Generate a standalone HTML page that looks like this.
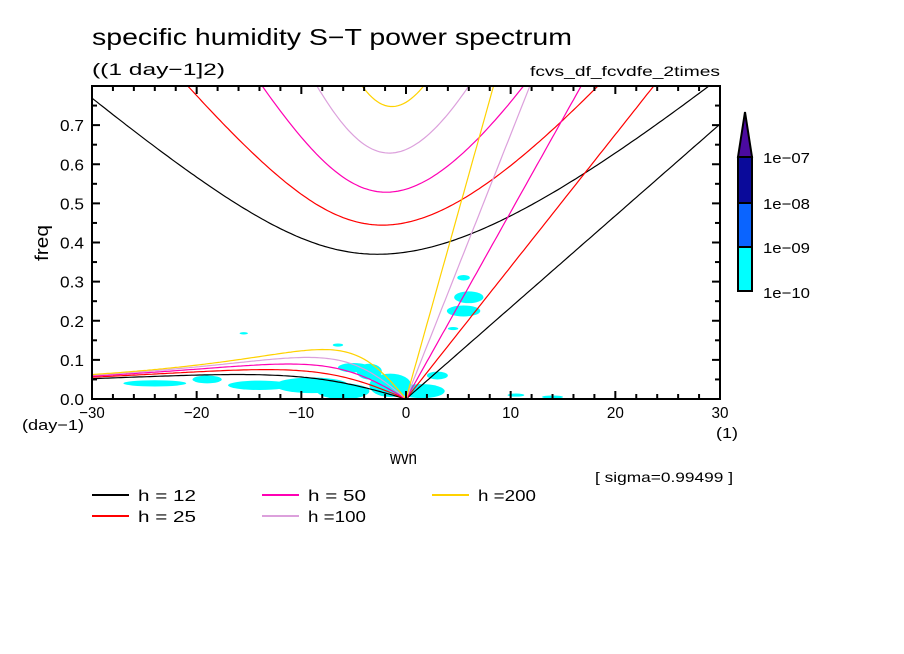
<!DOCTYPE html>
<html><head><meta charset="utf-8"><style>
body{margin:0;background:#fff;}
svg{display:block;font-family:"Liberation Sans",sans-serif;}
</style></head><body>
<svg id="chart" width="904" height="654" viewBox="0 0 904 654" xmlns="http://www.w3.org/2000/svg">
<rect width="904" height="654" fill="#fff"/>
<text x="92" y="45" font-size="23" textLength="480" lengthAdjust="spacingAndGlyphs" fill="#000">specific humidity S−T power spectrum</text>
<text x="92" y="75" font-size="17" textLength="133" lengthAdjust="spacingAndGlyphs">((1 day−1]2)</text>
<text x="530" y="76" font-size="14" textLength="190" lengthAdjust="spacingAndGlyphs">fcvs_df_fcvdfe_2times</text>
<g id="blobs" fill="#00ffff"></g>
<g id="curves" fill="none" stroke-width="1.2"></g>
<rect x="92" y="86" width="628" height="313" fill="none" stroke="#000" stroke-width="2"/>
<g id="ticks" stroke="#000" stroke-width="2"></g>
<g id="labels" font-size="16" fill="#000"></g>
<text x="48" y="243" font-size="18" textLength="36" lengthAdjust="spacingAndGlyphs" transform="rotate(-90 48 243)" text-anchor="middle">freq</text>
<text x="22" y="430" font-size="15" textLength="62" lengthAdjust="spacingAndGlyphs">(day−1)</text>
<text x="716" y="438" font-size="15" textLength="22" lengthAdjust="spacingAndGlyphs">(1)</text>
<text x="390" y="464" font-size="18" textLength="27" lengthAdjust="spacingAndGlyphs">wvn</text>
<text x="595" y="482" font-size="14" textLength="138" lengthAdjust="spacingAndGlyphs">[ sigma=0.99499 ]</text>
<g id="legend" font-size="16"></g>
<g stroke="#000" stroke-width="2">
<polygon points="738,157 752,157 745,112" fill="#4b0aa0"/>
<rect x="738" y="157" width="14" height="46" fill="#0a0a9a"/>
<rect x="738" y="203" width="14" height="44" fill="#0a64ff"/>
<rect x="738" y="247" width="14" height="44" fill="#00ffff"/>
</g>
<g font-size="15">
<text x="763" y="163" textLength="47" lengthAdjust="spacingAndGlyphs">1e−07</text><text x="763" y="209" textLength="47" lengthAdjust="spacingAndGlyphs">1e−08</text><text x="763" y="253" textLength="47" lengthAdjust="spacingAndGlyphs">1e−09</text><text x="763" y="298" textLength="47" lengthAdjust="spacingAndGlyphs">1e−10</text>
</g>
</svg>
<script>
const depths=[12,25,50,100,200];
const colors=["#000000","#ff0000","#ff00b4","#dca0dc","#ffd200"];
const xTicks=[-30,-20,-10,0,10,20,30];
const yTicks=[0.0,0.1,0.2,0.3,0.4,0.5,0.6,0.7];
// approximate shaded regions: [wvn center, freq center, wvn radius, freq radius]
const blobK=[-24,-19,-14,-9,-6,-5,-3.5,-1.5,1.5,3,5.5,6,5.5,4.5,10.5,14,-15.5,-6.5];
const blobF=[0.04,0.05,0.035,0.035,0.02,0.08,0.07,0.035,0.02,0.06,0.31,0.26,0.225,0.18,0.01,0.005,0.168,0.138];
const blobRK=[3,1.4,3,3.5,2.5,1.5,1.2,2,2.2,1,0.6,1.4,1.6,0.5,0.8,1,0.4,0.5];
const blobRF=[0.008,0.01,0.012,0.02,0.02,0.012,0.02,0.03,0.018,0.01,0.007,0.015,0.014,0.004,0.004,0.004,0.003,0.004];
const X0=92,X1=720,Y0=399,Y1=86,KMIN=-30,KMAX=30,FMAX=0.8;
const sx=k=>X0+(k-KMIN)/(KMAX-KMIN)*(X1-X0);
const sy=f=>Y0-f/FMAX*(Y0-Y1);
const NS="http://www.w3.org/2000/svg";
function mk(t,a,p){const e=document.createElementNS(NS,t);for(const k in a)e.setAttribute(k,a[k]);p.appendChild(e);return e;}
const bg=document.getElementById('blobs');
blobK.forEach((k,i)=>{const e=mk('ellipse',{cx:sx(k),cy:sy(blobF[i]),rx:blobRK[i]*(X1-X0)/60,ry:blobRF[i]*(Y0-Y1)/FMAX},bg);

});
const g=9.81,a=6.371e6,beta=2*7.292e-5/a,cpd=86400/(2*Math.PI);
const cg=document.getElementById('curves');
const clip=mk('clipPath',{id:'pc'},document.querySelector('svg'));mk('rect',{x:X0,y:Y1,width:X1-X0,height:Y0-Y1},clip);
cg.setAttribute('clip-path','url(#pc)');
depths.forEach((h,i)=>{
 const c=Math.sqrt(g*h);
 let d='';
 for(let w=0;w<=KMAX;w+=0.25){const k=w/a;d+=(w?'L':'M')+sx(w).toFixed(1)+','+sy(c*k*cpd).toFixed(1);}
 let e=mk('path',{d:d,stroke:colors[i]},cg);
 
 
 d='';
 for(let w=KMIN;w<=0;w+=0.25){const k=w/a;const om=-beta*k/(k*k+3*beta/c);d+=(w==KMIN?'M':'L')+sx(w).toFixed(1)+','+sy(om*cpd).toFixed(1);}
 e=mk('path',{d:d,stroke:colors[i]},cg);
 
 
 d='';
 for(let w=KMIN;w<=KMAX;w+=0.25){const k=w/a;let om=Math.sqrt(3*beta*c+k*k*c*c);for(let it=0;it<60;it++){om=Math.sqrt(Math.max(1e-20,k*k*c*c+3*beta*c+beta*c*c*k/om));}
  d+=(w==KMIN?'M':'L')+sx(w).toFixed(1)+','+Math.max(-50,sy(om*cpd)).toFixed(1);}
 e=mk('path',{d:d,stroke:colors[i]},cg);
 
 
});
const tg=document.getElementById('ticks'),lg=document.getElementById('labels');
for(let w=KMIN;w<=KMAX;w+=2){const L=(w%10==0)?8:5;mk('line',{x1:sx(w),x2:sx(w),y1:Y0,y2:Y0-L},tg);mk('line',{x1:sx(w),x2:sx(w),y1:Y1,y2:Y1+L},tg);}
for(let f=0;f<=0.8001;f+=0.05){const L=(Math.round(f*100)%10==0)?8:5;mk('line',{x1:X0,x2:X0+L,y1:sy(f),y2:sy(f)},tg);mk('line',{x1:X1,x2:X1-L,y1:sy(f),y2:sy(f)},tg);}
xTicks.forEach(v=>{const s=String(v).replace('-','−');const t=mk('text',{x:sx(v),y:418,'text-anchor':'middle',textLength:(s.length*8.5),lengthAdjust:'spacingAndGlyphs'},lg);t.textContent=s;

});
yTicks.forEach(v=>{const t=mk('text',{x:84,y:sy(v)+6,'text-anchor':'end',textLength:24,lengthAdjust:'spacingAndGlyphs'},lg);t.textContent=v.toFixed(1);

});
const leg=document.getElementById('legend');
const lx=[92,92,262,262,432],ly=[495,516,495,516,495];
const ltxt=["h = 12","h = 25","h = 50","h =100","h =200"];
depths.forEach((h,i)=>{mk('line',{x1:lx[i],x2:lx[i]+37,y1:ly[i],y2:ly[i],stroke:colors[i],'stroke-width':2},leg);
 const t=mk('text',{x:lx[i]+46,y:ly[i]+6,textLength:58,lengthAdjust:'spacingAndGlyphs'},leg);t.textContent=ltxt[i];
 
 });
</script>
</body></html>
